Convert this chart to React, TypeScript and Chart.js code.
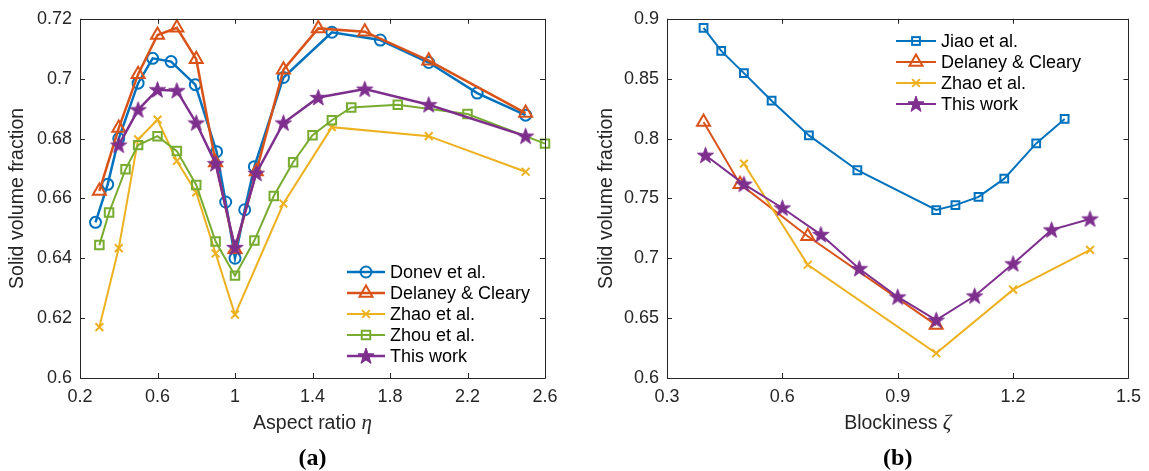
import React, { useEffect, useRef } from "react";
import { Chart, registerables } from "chart.js";

Chart.register(...registerables);

// ---------- data: panel (a) ----------
const xTicksA = [0.2, 0.6, 1.0, 1.4, 1.8, 2.2, 2.6];
const yTicksA = [0.6, 0.62, 0.64, 0.66, 0.68, 0.7, 0.72];

const donevX = [0.28, 0.343, 0.4, 0.5, 0.575, 0.67, 0.795, 0.905, 0.952, 1.0, 1.05, 1.1, 1.25, 1.5, 1.75, 2.0, 2.25, 2.5];
const donevY = [0.652, 0.6647, 0.68, 0.6985, 0.7068, 0.7057, 0.698, 0.6756, 0.6588, 0.64, 0.6562, 0.6706, 0.7004, 0.7155, 0.7129, 0.7054, 0.6952, 0.6878];

const delaneyAX = [0.3, 0.4, 0.5, 0.6, 0.7, 0.8, 0.9, 1.0, 1.11, 1.25, 1.43, 1.67, 2.0, 2.5];
const delaneyAY = [0.6625, 0.6835, 0.7015, 0.7146, 0.717, 0.7065, 0.672, 0.643, 0.669, 0.703, 0.7168, 0.7157, 0.706, 0.6885];

const zhaoAX = [0.3, 0.4, 0.5, 0.6, 0.7, 0.8, 0.9, 1.0, 1.25, 1.5, 2.0, 2.5];
const zhaoAY = [0.617, 0.6434, 0.6797, 0.6863, 0.6725, 0.662, 0.6416, 0.6212, 0.6583, 0.6838, 0.6808, 0.6689];

const zhouX = [0.3, 0.35, 0.435, 0.5, 0.6, 0.7, 0.8, 0.9, 1.0, 1.1, 1.2, 1.3, 1.4, 1.5, 1.6, 1.84, 2.2, 2.6];
const zhouY = [0.6444, 0.6553, 0.6697, 0.6778, 0.6808, 0.6758, 0.6645, 0.6456, 0.6342, 0.6459, 0.6608, 0.6721, 0.6811, 0.6861, 0.6904, 0.6913, 0.6882, 0.6783];

const thisAX = [0.4, 0.5, 0.6, 0.7, 0.8, 0.9, 1.0, 1.11, 1.25, 1.43, 1.67, 2.0, 2.5];
const thisAY = [0.6778, 0.6896, 0.6963, 0.696, 0.6852, 0.6716, 0.6436, 0.6684, 0.6852, 0.6937, 0.6965, 0.6913, 0.6808];

// ---------- data: panel (b) ----------
const xTicksB = [0.3, 0.6, 0.9, 1.2, 1.5];
const yTicksB = [0.6, 0.65, 0.7, 0.75, 0.8, 0.85, 0.9];

const jiaoX = [0.395, 0.441, 0.5, 0.572, 0.669, 0.795, 1.0, 1.05, 1.11, 1.177, 1.26, 1.334];
const jiaoY = [0.8925, 0.8732, 0.8546, 0.8316, 0.8026, 0.7735, 0.7403, 0.7444, 0.7513, 0.7665, 0.7959, 0.8164];

const delaneyBX = [0.395, 0.49, 0.666, 1.0];
const delaneyBY = [0.8139, 0.7619, 0.7184, 0.6442];

const zhaoBX = [0.5, 0.666, 1.0, 1.2, 1.4];
const zhaoBY = [0.779, 0.6946, 0.6207, 0.6738, 0.707];

const thisBX = [0.4, 0.5, 0.6, 0.7, 0.8, 0.9, 1.0, 1.1, 1.2, 1.3, 1.4];
const thisBY = [0.786, 0.7619, 0.742, 0.7198, 0.6913, 0.6677, 0.6483, 0.6685, 0.6954, 0.7237, 0.7328];

// ---------- styles ----------
const BLUE = "#0072BD";
const ORANGE = "#D95319";
const YELLOW = "#EDB120";
const PURPLE = "#7E2F8E";
const GREEN = "#77AC30";
const AXIS = "#262626";
const SANS = "'Liberation Sans', Arial, Helvetica, sans-serif";
const SERIF = "'Liberation Serif', 'Times New Roman', serif";
const TICK_FONT = 18;
const TITLE_FONT = 19.5;
const W = 1149;
const H = 471;

type Style = "circle" | "triangle" | "crossRot" | "rect" | "star";
interface Series {
  label: string;
  x: number[];
  y: number[];
  color: string;
  style: Style;
  r: number;
  lw: number;
  mlw: number;
}

function starPath(ctx: CanvasRenderingContext2D, cx: number, cy: number, r: number) {
  const inner = r * 0.4;
  ctx.beginPath();
  for (let i = 0; i < 10; i++) {
    const rr = i % 2 === 0 ? r : inner;
    const a = -Math.PI / 2 + (i * Math.PI) / 5;
    const px = cx + rr * Math.cos(a);
    const py = cy + rr * Math.sin(a);
    if (i === 0) ctx.moveTo(px, py);
    else ctx.lineTo(px, py);
  }
  ctx.closePath();
}

function makeStar(r: number, color: string): HTMLCanvasElement {
  const size = Math.ceil(r * 2 + 4);
  const c = document.createElement("canvas");
  c.width = size;
  c.height = size;
  const ctx = c.getContext("2d")!;
  starPath(ctx, size / 2, size / 2 + 0.5, r);
  ctx.fillStyle = color;
  ctx.fill();
  ctx.strokeStyle = color;
  ctx.lineWidth = 1;
  ctx.stroke();
  return c;
}

function drawMarker(ctx: CanvasRenderingContext2D, s: Series, x: number, y: number) {
  const r = s.r;
  ctx.save();
  ctx.strokeStyle = s.color;
  ctx.fillStyle = s.color;
  ctx.lineWidth = s.mlw;
  if (s.style === "circle") {
    ctx.beginPath();
    ctx.arc(x, y, r, 0, Math.PI * 2);
    ctx.stroke();
  } else if (s.style === "triangle") {
    ctx.beginPath();
    ctx.moveTo(x, y - r);
    ctx.lineTo(x + r * Math.sin((2 * Math.PI) / 3), y - r * Math.cos((2 * Math.PI) / 3));
    ctx.lineTo(x + r * Math.sin((4 * Math.PI) / 3), y - r * Math.cos((4 * Math.PI) / 3));
    ctx.closePath();
    ctx.stroke();
  } else if (s.style === "rect") {
    const h = r * Math.SQRT1_2;
    ctx.strokeRect(x - h, y - h, 2 * h, 2 * h);
  } else if (s.style === "crossRot") {
    const h = r * Math.SQRT1_2;
    ctx.beginPath();
    ctx.moveTo(x - h, y - h);
    ctx.lineTo(x + h, y + h);
    ctx.moveTo(x - h, y + h);
    ctx.lineTo(x + h, y - h);
    ctx.stroke();
  } else {
    starPath(ctx, x, y + 0.5, r);
    ctx.fill();
    ctx.lineWidth = 1;
    ctx.stroke();
  }
  ctx.restore();
}

interface FrameOpts {
  caption: string;
  xTitle: string;
  xSymbol: string;
  series: Series[];
  legendX0: number;
  legendX1: number;
  legendTextX: number;
  legendY0: number;
  legendDY: number;
}

const framePlugin = {
  id: "frame",
  afterDraw(chart: any, _args: any, opts: FrameOpts) {
    const ctx: CanvasRenderingContext2D = chart.ctx;
    const { left, right, top, bottom } = chart.chartArea;
    const xs = chart.scales.x;
    const ys = chart.scales.y;
    ctx.save();
    ctx.strokeStyle = AXIS;
    ctx.lineWidth = 1;
    ctx.beginPath();
    ctx.rect(Math.round(left) + 0.5, Math.round(top) + 0.5, Math.round(right - left), Math.round(bottom - top));
    ctx.stroke();
    const tl = 5;
    ctx.beginPath();
    xs.ticks.forEach((t: any) => {
      const px = Math.round(xs.getPixelForValue(t.value)) + 0.5;
      ctx.moveTo(px, bottom);
      ctx.lineTo(px, bottom - tl);
      ctx.moveTo(px, top);
      ctx.lineTo(px, top + tl);
    });
    ys.ticks.forEach((t: any) => {
      const py = Math.round(ys.getPixelForValue(t.value)) + 0.5;
      ctx.moveTo(left, py);
      ctx.lineTo(left + tl, py);
      ctx.moveTo(right, py);
      ctx.lineTo(right - tl, py);
    });
    ctx.stroke();

    // legend
    opts.series.forEach((s, i) => {
      const y = opts.legendY0 + i * opts.legendDY;
      ctx.save();
      ctx.strokeStyle = s.color;
      ctx.lineWidth = s.lw;
      ctx.beginPath();
      ctx.moveTo(opts.legendX0, y);
      ctx.lineTo(opts.legendX1, y);
      ctx.stroke();
      ctx.restore();
      drawMarker(ctx, s, (opts.legendX0 + opts.legendX1) / 2, y);
      ctx.fillStyle = "#000";
      ctx.font = `${TICK_FONT}px ${SANS}`;
      ctx.textBaseline = "middle";
      ctx.textAlign = "left";
      ctx.fillText(s.label, opts.legendTextX, y + 1);
    });

    // x-axis title: sans text + italic math symbol
    const cx = (left + right) / 2;
    const titleFont = `${TITLE_FONT}px ${SANS}`;
    const symFont = `italic 21px ${SERIF}`;
    ctx.font = titleFont;
    const w1 = ctx.measureText(opts.xTitle + " ").width;
    ctx.font = symFont;
    const w2 = ctx.measureText(opts.xSymbol).width;
    const x0 = cx - (w1 + w2) / 2;
    ctx.fillStyle = AXIS;
    ctx.textAlign = "left";
    ctx.textBaseline = "alphabetic";
    ctx.font = titleFont;
    ctx.fillText(opts.xTitle + " ", x0, 429);
    ctx.font = symFont;
    ctx.fillText(opts.xSymbol, x0 + w1, 429);

    // caption
    ctx.fillStyle = "#000";
    ctx.font = `bold 24px ${SERIF}`;
    ctx.textAlign = "center";
    ctx.textBaseline = "middle";
    ctx.fillText(opts.caption, cx, 459);
    ctx.restore();
  },
};

const fmt = (v: any) => String(parseFloat(Number(v).toFixed(2)));

interface PanelSpec {
  series: Series[];
  xTicks: number[];
  yTicks: number[];
  yAxisWidth: number;
  yTitlePad: number;
  padRight: number;
  frame: FrameOpts;
}

function buildConfig(p: PanelSpec): any {
  const n = p.series.length;
  return {
    type: "line",
    data: {
      datasets: p.series.map((s, i) => ({
        label: s.label,
        data: s.x.map((x, j) => ({ x, y: s.y[j] })),
        borderColor: s.color,
        backgroundColor: "rgba(0,0,0,0)",
        borderWidth: s.lw,
        pointStyle: s.style === "star" ? makeStar(s.r, s.color) : s.style,
        pointRadius: s.r,
        pointHoverRadius: s.r,
        pointBorderWidth: s.mlw,
        pointBorderColor: s.color,
        pointBackgroundColor: "rgba(0,0,0,0)",
        tension: 0,
        fill: false,
        clip: false,
        order: n - i,
      })),
    },
    options: {
      responsive: false,
      animation: false,
      events: [],
      layout: { padding: { left: 0, top: 17, right: p.padRight, bottom: 0 } },
      plugins: {
        legend: { display: false },
        tooltip: { enabled: false },
        frame: p.frame,
      },
      scales: {
        x: {
          type: "linear",
          min: p.xTicks[0],
          max: p.xTicks[p.xTicks.length - 1],
          afterBuildTicks: (sc: any) => {
            sc.ticks = p.xTicks.map((v) => ({ value: v }));
          },
          afterFit: (sc: any) => {
            sc.height = 93;
          },
          grid: { display: false, drawTicks: false },
          border: { display: false },
          ticks: {
            font: { family: SANS, size: TICK_FONT },
            color: AXIS,
            padding: 8,
            maxRotation: 0,
            autoSkip: false,
            callback: fmt,
          },
          title: { display: false },
        },
        y: {
          type: "linear",
          min: p.yTicks[0],
          max: p.yTicks[p.yTicks.length - 1],
          afterBuildTicks: (sc: any) => {
            sc.ticks = p.yTicks.map((v) => ({ value: v }));
          },
          afterFit: (sc: any) => {
            sc.width = p.yAxisWidth;
          },
          grid: { display: false, drawTicks: false },
          border: { display: false },
          ticks: {
            font: { family: SANS, size: TICK_FONT },
            color: AXIS,
            padding: 8,
            autoSkip: false,
            callback: fmt,
          },
          title: {
            display: true,
            text: "Solid volume fraction",
            font: { family: SANS, size: TITLE_FONT },
            color: AXIS,
            padding: { top: p.yTitlePad, bottom: 0 },
          },
        },
      },
    },
    plugins: [framePlugin],
  };
}

const seriesA: Series[] = [
  { label: "Donev et al.", x: donevX, y: donevY, color: BLUE, style: "circle", r: 5.5, lw: 2.5, mlw: 2 },
  { label: "Delaney & Cleary", x: delaneyAX, y: delaneyAY, color: ORANGE, style: "triangle", r: 7.5, lw: 2.5, mlw: 2 },
  { label: "Zhao et al.", x: zhaoAX, y: zhaoAY, color: YELLOW, style: "crossRot", r: 5.5, lw: 2, mlw: 2 },
  { label: "Zhou et al.", x: zhouX, y: zhouY, color: GREEN, style: "rect", r: 6, lw: 2, mlw: 2 },
  { label: "This work", x: thisAX, y: thisAY, color: PURPLE, style: "star", r: 8.5, lw: 2.5, mlw: 1 },
];

const seriesB: Series[] = [
  { label: "Jiao et al.", x: jiaoX, y: jiaoY, color: BLUE, style: "rect", r: 5.5, lw: 2, mlw: 2 },
  { label: "Delaney & Cleary", x: delaneyBX, y: delaneyBY, color: ORANGE, style: "triangle", r: 7.5, lw: 2, mlw: 2 },
  { label: "Zhao et al.", x: zhaoBX, y: zhaoBY, color: YELLOW, style: "crossRot", r: 5.5, lw: 2, mlw: 2 },
  { label: "This work", x: thisBX, y: thisBY, color: PURPLE, style: "star", r: 8.5, lw: 2, mlw: 1 },
];

const LEFT_W = 575;
const RIGHT_W = W - LEFT_W;

export default function App() {
  const refA = useRef<HTMLCanvasElement>(null);
  const refB = useRef<HTMLCanvasElement>(null);

  useEffect(() => {
    const a = new Chart(
      refA.current!,
      buildConfig({
        series: seriesA,
        xTicks: xTicksA,
        yTicks: yTicksA,
        yAxisWidth: 80,
        yTitlePad: 6,
        padRight: LEFT_W - 545,
        frame: {
          caption: "(a)",
          xTitle: "Aspect ratio",
          xSymbol: "η",
          series: seriesA,
          legendX0: 347,
          legendX1: 385,
          legendTextX: 390,
          legendY0: 272,
          legendDY: 21,
        },
      })
    );
    const b = new Chart(
      refB.current!,
      buildConfig({
        series: seriesB,
        xTicks: xTicksB,
        yTicks: yTicksB,
        yAxisWidth: 92,
        yTitlePad: 20,
        padRight: RIGHT_W - (1132 - LEFT_W),
        frame: {
          caption: "(b)",
          xTitle: "Blockiness",
          xSymbol: "ζ",
          series: seriesB,
          legendX0: 896 - LEFT_W,
          legendX1: 936 - LEFT_W,
          legendTextX: 941 - LEFT_W,
          legendY0: 41,
          legendDY: 21,
        },
      })
    );
    return () => {
      a.destroy();
      b.destroy();
    };
  }, []);

  return (
    <div style={{ position: "absolute", left: 0, top: 0, width: W, height: H, background: "#fff" }}>
      <canvas ref={refA} width={LEFT_W} height={H} style={{ position: "absolute", left: 0, top: 0, width: LEFT_W, height: H }} />
      <canvas ref={refB} width={RIGHT_W} height={H} style={{ position: "absolute", left: LEFT_W, top: 0, width: RIGHT_W, height: H }} />
    </div>
  );
}
